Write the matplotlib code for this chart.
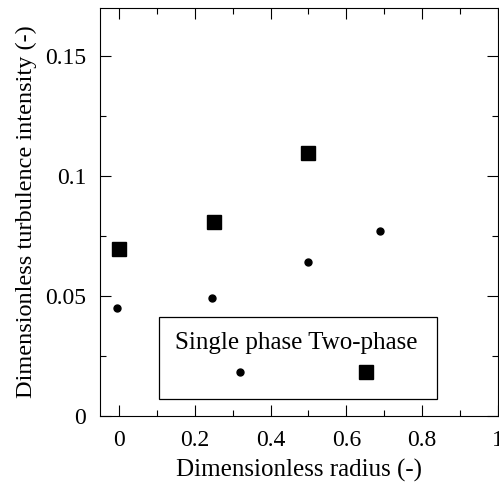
import matplotlib.pyplot as plt
from matplotlib.ticker import MultipleLocator
from matplotlib.patches import Rectangle

# data
r_single = [-0.005, 0.246, 0.498, 0.69]
ti_single = [0.045, 0.049, 0.064, 0.077]
r_two = [0.0, 0.25, 0.5]
ti_two = [0.0696, 0.081, 0.1096]

plt.rcParams['font.family'] = 'Liberation Serif'

fig = plt.figure(figsize=(4.99, 4.82), dpi=100)
ax = fig.add_axes([100/499, 1 - 416/482, 398/499, 408/482])

ax.plot(r_single, ti_single, 'o', color='black', markersize=5, linestyle='none')
ax.plot(r_two, ti_two, 's', color='black', markersize=10, linestyle='none')

ax.set_xlim(-0.05, 1.0)
ax.set_ylim(0, 0.17)
ax.xaxis.set_minor_locator(MultipleLocator(0.1))
ax.yaxis.set_minor_locator(MultipleLocator(0.025))
ax.set_xticks([0, 0.2, 0.4, 0.6, 0.8, 1.0])
ax.set_xticklabels(['0', '0.2', '0.4', '0.6', '0.8', '1'])
ax.set_yticks([0, 0.05, 0.1, 0.15])
ax.set_yticklabels(['0', '0.05', '0.1', '0.15'])
ax.tick_params(which='both', direction='in', top=True, right=True, labelsize=17)
ax.tick_params(which='major', length=8, width=0.8)
ax.tick_params(which='minor', length=4, width=0.8)
ax.tick_params(axis='x', pad=10)
ax.tick_params(axis='y', pad=10)

ax.set_xlabel('Dimensionless radius (-)', fontsize=18, labelpad=6)
ax.set_ylabel('Dimensionless turbulence intensity (-)', fontsize=17.5, labelpad=6)

# legend box: labels on top, keys underneath
ax.add_patch(Rectangle((0.148, 0.042), 0.699, 0.201, transform=ax.transAxes,
                       facecolor='white', edgecolor='black', linewidth=0.9, zorder=3))
ax.text(0.494, 0.179, 'Single phase Two-phase', transform=ax.transAxes,
        fontsize=18, ha='center', va='center', zorder=4)
ax.plot([0.352], [0.108], 'o', color='black', markersize=5, transform=ax.transAxes,
        zorder=4, clip_on=False)
ax.plot([0.668], [0.108], 's', color='black', markersize=10, transform=ax.transAxes,
        zorder=4, clip_on=False)

fig.savefig('out.png', dpi=100)
